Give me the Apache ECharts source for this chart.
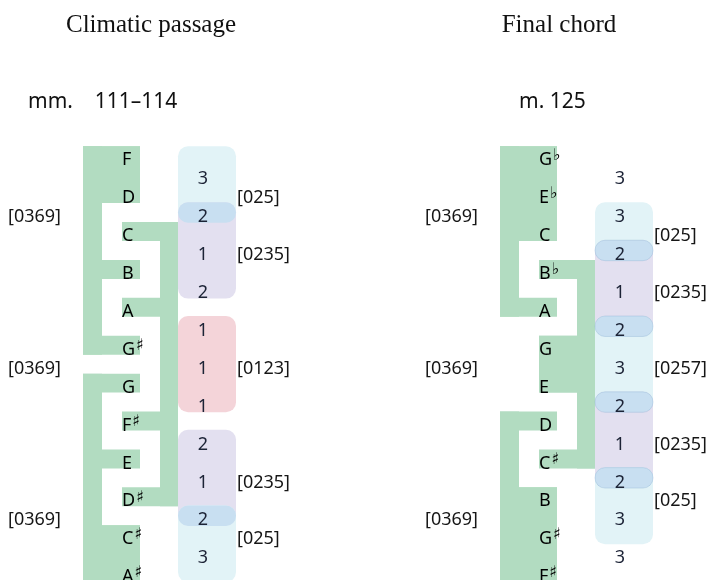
<!DOCTYPE html>
<html><head><meta charset="utf-8">
<script src="https://cdn.jsdelivr.net/npm/echarts@6/dist/echarts.min.js"></script>
<style>html,body{margin:0;padding:0;background:#fff}#c{width:708px;height:580px}</style>
</head><body><div id="c"></div>
<script>
// ---------------- data ----------------
const titles = ['Climatic passage', 'Final chord'];
const subtitles = ['mm.    111–114', 'm. 125'];
const leftNotes = ['F','D','C','B','A','G♯','G','F♯','E','D♯','C♯','A♯'];
const rightNotes = ['G♭','E♭','C','B♭','A','G','E','D','C♯','B','G♯','F♯'];
const leftIntervals = [3,2,1,2,1,1,1,2,1,2,3];
const rightIntervals = [3,3,2,1,2,3,2,1,2,3,3];
const leftChains = [[0,1,3,5],[2,4,7,9],[6,8,10,11]];
const rightChains = [[0,1,2,4],[3,5,6,8],[7,9,10,11]];
const chainSet = '[0369]';
const leftSets = [['[025]',0,1],['[0235]',1,3],['[0123]',4,6],['[0235]',7,9],['[025]',9,10]];
const rightSets = [['[025]',1,2],['[0235]',2,4],['[0257]',4,6],['[0235]',6,8],['[025]',8,9]];

// ---------------- layout / style ----------------
const ROW0 = 155.7, ROWH = 37.9;
const SANS = '"Noto Sans", "DejaVu Sans", sans-serif';
const SERIF = '"Liberation Serif", "DejaVu Serif", serif';
const X = {outerL:83, outerBarR:102, outerTabR:140, innerTabL:122, innerBarL:160, innerBarR:178,
           boxL:178, boxR:236, noteX:122, setX:237, chainLblX:8, intOff:-4};
const chainSide = ['outer','inner','outer'];
const panels = [
  {dx:0,   cx:151, subX:28,  notes:leftNotes,  intervals:leftIntervals,  chains:leftChains,  sets:leftSets,  extTop:true,  extBottom:true,  bandStroke:null},
  {dx:417, cx:559, subX:519, notes:rightNotes, intervals:rightIntervals, chains:rightChains, sets:rightSets, extTop:false, extBottom:true,  bandStroke:'rgba(120,160,200,0.28)'}
];
const TITLE_Y = 25, SUB_Y = 102.5;
const GREEN = '#b2dcc1';
const setColor = {'[025]':'#e2f3f7','[0257]':'#e2f3f7','[0235]':'#e3e0f0','[0123]':'#f4d4d9'};
const BAND = '#c8dff1';
const PAD = 0.27, TAB = 0.25, TXT = 0.12;
const GRID_TOP = ROW0 - 4 * ROWH;

function rectOf(api, x1, r1, x2, r2) {
  const a = api.coord([x1, r1]), b = api.coord([x2, r2]);
  return {x:a[0], y:a[1], width:b[0]-a[0], height:b[1]-a[1]};
}
function setSpan(p, i) {
  const s = p.sets[i];
  let top = s[1] + 0.5 - PAD, bot = s[2] + 0.5 + PAD;
  if (i === 0 && p.extTop) top = s[1] - TAB;
  if (i === p.sets.length - 1 && p.extBottom) bot = s[2] + 1 + TAB;
  return [top, bot];
}

const chainData = [], setData = [], bandData = [], noteData = [], intData = [], setLblData = [], chainLblData = [], headData = [];
panels.forEach((p, pi) => {
  headData.push([pi]);
  p.chains.forEach((c, ci) => { chainData.push([pi, ci]); chainLblData.push([pi, ci]); });
  p.sets.forEach((s, si) => {
    setData.push([pi, si]); setLblData.push([pi, si]);
    if (si < p.sets.length - 1 && p.sets[si+1][1] <= s[2]) bandData.push([pi, si]);
  });
  p.notes.forEach((n, ni) => noteData.push([pi, ni]));
  p.intervals.forEach((v, ii) => intData.push([pi, ii]));
});

const chart = echarts.init(document.getElementById('c'), null, {renderer:'canvas'});

chart.setOption({
  animation: false,
  backgroundColor: '#fff',
  grid: {left:0, right:0, top: GRID_TOP, bottom: 0},
  xAxis: {type:'value', min:0, max:708, show:false},
  yAxis: {type:'value', min:-4, max: -4 + (580 - GRID_TOP) / ROWH, inverse:true, show:false},
  series: [
    { // headings
      type:'custom', data: headData, silent:true, z:5, clip:false,
      renderItem(params, api) {
        const pi = api.value(0), p = panels[pi];
        return {type:'group', children:[
          {type:'text', style:{text: titles[pi], x: p.cx, y: TITLE_Y, align:'center', verticalAlign:'middle', font:'25px ' + SERIF, fill:'#111'}},
          {type:'text', style:{text: subtitles[pi], x: p.subX, y: SUB_Y, align:'left', verticalAlign:'middle', font:'21px ' + SANS, fill:'#111'}}
        ]};
      }
    },
    { // green [0369] chains
      type:'custom', data: chainData, silent:true, z:1, clip:false,
      renderItem(params, api) {
        const p = panels[api.value(0)], ci = api.value(1), rows = p.chains[ci], d = p.dx;
        const outer = chainSide[ci] === 'outer';
        const tL = (outer ? X.outerL : X.innerTabL) + d, tR = (outer ? X.outerTabR : X.innerBarR) + d;
        const bL = (outer ? X.outerL : X.innerBarL) + d, bR = (outer ? X.outerBarR : X.innerBarR) + d;
        const kids = [];
        const add = sh => kids.push({type:'rect', shape: sh, style:{fill:GREEN}});
        rows.forEach((r, k) => {
          add(rectOf(api, tL, r - TAB, tR, r + TAB));
          if (k < rows.length - 1 && rows[k+1] === r + 1) add(rectOf(api, tL, r - TAB, tR, r + 1 + TAB));
        });
        add(rectOf(api, bL, rows[0] - TAB, bR, rows[rows.length-1] + TAB));
        return {type:'group', children: kids};
      }
    },
    { // set-class boxes
      type:'custom', data: setData, silent:true, z:2, clip:false,
      renderItem(params, api) {
        const p = panels[api.value(0)], si = api.value(1), s = p.sets[si];
        const [t, b] = setSpan(p, si);
        const sh = rectOf(api, X.boxL + p.dx, t, X.boxR + p.dx, b);
        sh.r = 10;
        return {type:'rect', shape: sh, style:{fill: setColor[s[0]]}};
      }
    },
    { // overlap bands
      type:'custom', data: bandData, silent:true, z:3, clip:false,
      renderItem(params, api) {
        const p = panels[api.value(0)], si = api.value(1);
        const t = setSpan(p, si + 1)[0], b = setSpan(p, si)[1];
        const sh = rectOf(api, X.boxL + p.dx, t, X.boxR + p.dx, b);
        sh.r = Math.min(10, sh.height / 2);
        return {type:'rect', shape: sh, style:{fill: BAND, stroke: p.bandStroke || null, lineWidth: 1}};
      }
    },
    { // note names
      type:'custom', data: noteData, silent:true, z:5, clip:false,
      renderItem(params, api) {
        const p = panels[api.value(0)], n = p.notes[api.value(1)];
        const pt = api.coord([X.noteX + p.dx, api.value(1) + TXT]);
        const txt = n.length > 1 ? '{l|' + n[0] + '}{a|' + n.slice(1) + '}' : '{l|' + n + '}';
        return {type:'text', style:{text: txt, x: pt[0], y: pt[1], align:'left', verticalAlign:'middle',
          rich:{ l:{fontFamily:SANS, fontSize:18, color:'#1d5832', lineHeight:24},
                 a:{fontFamily:'"DejaVu Sans", sans-serif', fontSize:16, color:'#1d5832', lineHeight:16, verticalAlign:'top', padding:[0,0,0,1]} }}};
      }
    },
    { // interval numbers
      type:'custom', data: intData, silent:true, z:5, clip:false,
      renderItem(params, api) {
        const p = panels[api.value(0)], ii = api.value(1);
        const pt = api.coord([(X.boxL + X.boxR) / 2 + X.intOff + p.dx, ii + 0.5 + TXT]);
        return {type:'text', style:{text: String(p.intervals[ii]), x: pt[0], y: pt[1], align:'center', verticalAlign:'middle',
          font: '18px ' + SANS, fill:'#1c2336'}};
      }
    },
    { // set-class labels beside boxes
      type:'custom', data: setLblData, silent:true, z:5, clip:false,
      renderItem(params, api) {
        const p = panels[api.value(0)], s = p.sets[api.value(1)];
        const pt = api.coord([X.setX + p.dx, (s[1] + s[2]) / 2 + 0.5 + TXT]);
        return {type:'text', style:{text: s[0], x: pt[0], y: pt[1], align:'left', verticalAlign:'middle',
          font: '18px ' + SANS, fill:'#161616'}};
      }
    },
    { // [0369] labels
      type:'custom', data: chainLblData, silent:true, z:5, clip:false,
      renderItem(params, api) {
        const p = panels[api.value(0)], ci = api.value(1);
        const pt = api.coord([X.chainLblX + p.dx, ci * 4 + 1.5 + TXT]);
        return {type:'text', style:{text: chainSet, x: pt[0], y: pt[1], align:'left', verticalAlign:'middle',
          font: '18px ' + SANS, fill:'#161616'}};
      }
    }
  ]
});
</script></body></html>
